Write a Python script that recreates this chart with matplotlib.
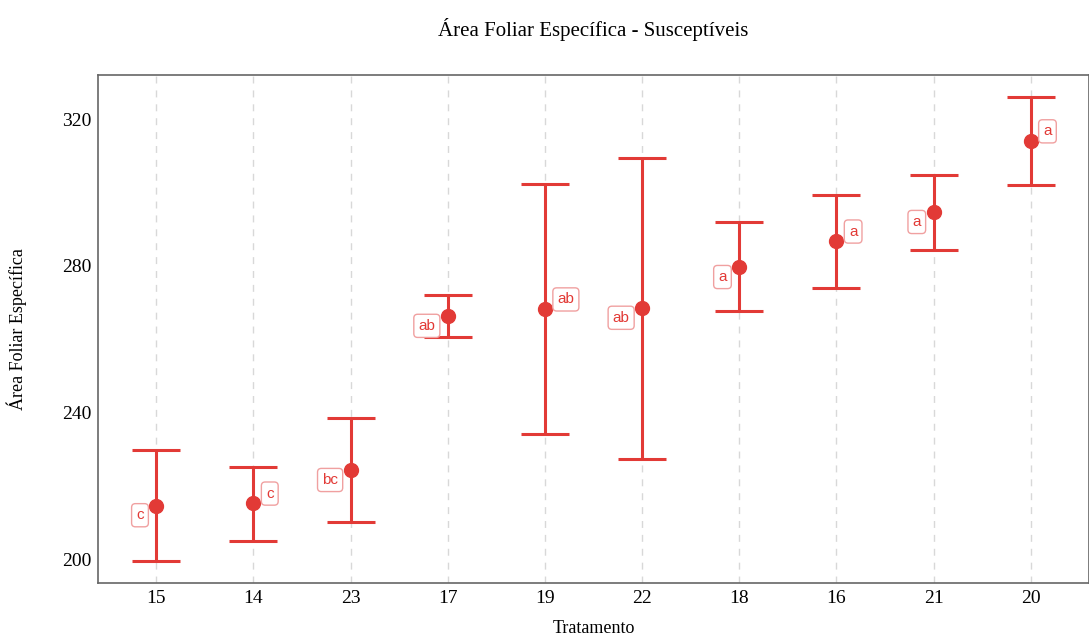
import numpy as np
import matplotlib.pyplot as plt

plt.rcParams['font.family'] = ['Liberation Serif', 'DejaVu Serif']

tratamentos = ['15', '14', '23', '17', '19', '22', '18', '16', '21', '20']
medias = [214.7, 215.3, 224.3, 266.3, 268.2, 268.5, 279.6, 286.7, 294.6, 314.0]
superior = [229.7, 225.1, 238.5, 272.0, 302.3, 309.4, 291.9, 299.3, 304.7, 326.0]
inferior = [199.7, 204.9, 210.1, 260.5, 234.1, 227.3, 267.6, 273.9, 284.3, 302.0]
letras = ['c', 'c', 'bc', 'ab', 'ab', 'ab', 'a', 'a', 'a', 'a']
lado = ['left', 'right', 'left', 'left', 'right', 'left', 'left', 'right', 'left', 'right']

cor = '#E23A36'

fig = plt.figure(figsize=(10.89, 6.41), dpi=100)
ax = fig.add_axes([0.09, 0.09, 0.91, 0.793])

x = np.arange(len(tratamentos))
medias = np.array(medias)
erro = [medias - np.array(inferior), np.array(superior) - medias]

ax.errorbar(x, medias, yerr=erro, fmt='o', color=cor, ecolor=cor,
            elinewidth=2.2, capsize=17, capthick=2.2, markersize=10, zorder=3)

for xi, m, l, s in zip(x, medias, letras, lado):
    if s == 'left':
        off = (-9, -7)
        ha = 'right'
    else:
        off = (9, 7)
        ha = 'left'
    ax.annotate(l, (xi, m), xytext=off, textcoords='offset points',
                ha=ha, va='center', fontsize=11, color=cor, family='Liberation Sans',
                bbox=dict(boxstyle='round,pad=0.3,rounding_size=0.25',
                          fc='white', ec='#F0A0A0', lw=1), zorder=4)

ax.set_xlim(-0.6, 9.6)
ax.set_ylim(193.5, 332)
ax.set_xticks(x)
ax.set_xticklabels(tratamentos)
ax.set_yticks([200, 240, 280, 320])
ax.tick_params(length=0, labelsize=14, pad=5)
ax.xaxis.grid(True, linestyle=(0, (5, 5)), color='#D8D8D8', lw=1)
ax.set_axisbelow(True)
for sp in ax.spines.values():
    sp.set_color('#666666')
    sp.set_linewidth(1.2)

ax.set_xlabel('Tratamento', fontsize=13, labelpad=9)
ax.set_ylabel('Área Foliar Específica', fontsize=13, labelpad=25)
ax.set_title('Área Foliar Específica - Susceptíveis', fontsize=15, pad=28)

fig.savefig('out.png', dpi=100)
